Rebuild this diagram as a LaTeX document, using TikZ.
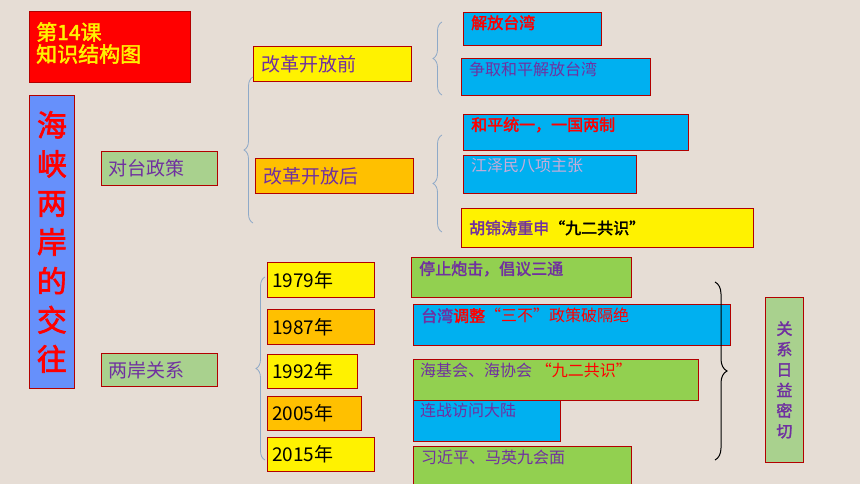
\documentclass[tikz,border=0pt]{standalone}
\usepackage{fontspec}
\setmainfont{Noto Sans CJK SC}
\newfontfamily\cjkb{Noto Sans CJK SC}[FakeBold=2]
\usetikzlibrary{decorations.pathreplacing}
\definecolor{bg}{HTML}{E6DDD5}
\definecolor{pur}{HTML}{7030A0}
\definecolor{gr}{HTML}{92D050}
\definecolor{lg}{HTML}{A9D18E}
\definecolor{bl}{HTML}{00B0F0}
\definecolor{org}{HTML}{FFC000}
\definecolor{brc}{HTML}{8EA9C8}
\tikzset{
 box/.style={draw=red!70!black,line width=0.8pt,anchor=north west,inner sep=0pt,text=pur},
 tx/.style={anchor=west,text=pur,inner sep=0pt},
 br/.style={decorate,decoration={brace,amplitude=9pt},draw=brc,line width=0.8pt},
}
\newcommand{\bx}[6]{\node[box,fill=#5,minimum width=#3pt,minimum height=#4pt] (#6) at (#1pt,-#2pt) {};}
\begin{document}
\begin{tikzpicture}[x=1pt,y=1pt]
\fill[bg] (0,0) rectangle (860,-484);
\useasboundingbox (0,0) rectangle (860,-484);
% title
\bx{29}{11}{161}{71}{red}{t}
\node[anchor=west,text=yellow,font=\cjkb\fontsize{21}{22}\selectfont,align=left,inner sep=0pt] at (36,-43) {第14课\\知识结构图};
\bx{29}{95}{45}{293}{bl!40!blue!60!white}{v}
\node[text=red,font=\cjkb\fontsize{30}{39}\selectfont,align=center] at (v.center) {海\\峡\\两\\岸\\的\\交\\往};
\bx{101}{151}{116}{34}{lg}{a}
\node[tx,font=\fontsize{19}{20}\selectfont] at ([xshift=7pt]a.west) {对台政策};
\bx{101}{353}{116}{33}{lg}{b}
\node[tx,font=\fontsize{19}{20}\selectfont] at ([xshift=7pt]b.west) {两岸关系};
\bx{253}{46}{158}{35}{yellow}{c}
\node[tx,font=\fontsize{19}{20}\selectfont] at ([xshift=8pt]c.west) {改革开放前};
\bx{255}{158}{158}{35}{org}{d}
\node[tx,font=\fontsize{19}{20}\selectfont] at ([xshift=8pt]d.west) {改革开放后};
% policy items
\bx{463}{12}{138}{33}{bl}{e1}
\node[tx,text=red,font=\cjkb\fontsize{16}{17}\selectfont,anchor=north west] at ([xshift=8pt,yshift=-3pt]e1.north west) {解放台湾};
\bx{461}{58}{189}{37}{bl}{e2}
\node[tx,font=\fontsize{16}{17}\selectfont,anchor=north west] at ([xshift=8pt,yshift=-4pt]e2.north west) {争取和平解放台湾};
\bx{463}{114}{225}{36}{bl}{e3}
\node[tx,text=red,font=\cjkb\fontsize{16}{17}\selectfont,anchor=north west] at ([xshift=8pt,yshift=-3pt]e3.north west) {和平统一，一国两制};
\bx{463}{155}{173}{38}{bl}{e4}
\node[tx,text=pur!40!white,font=\fontsize{16}{17}\selectfont,anchor=north west] at ([xshift=8pt,yshift=-3pt]e4.north west) {江泽民八项主张};
\bx{461}{208}{292}{39}{yellow}{e5}
\node[tx,font=\cjkb\fontsize{16}{17}\selectfont] at ([xshift=8pt]e5.west) {胡锦涛重申\textcolor{black}{“九二共识”}};
% years
\bx{267}{262}{107}{35}{yellow}{y1}
\bx{267}{309}{107}{35}{org}{y2}
\bx{267}{354}{90}{34}{yellow}{y3}
\bx{267}{396}{94}{34}{org}{y4}
\bx{267}{437}{107}{34}{yellow}{y5}
\foreach \n/\t in {y1/1979年,y2/1987年,y3/1992年,y4/2005年,y5/2015年}
  \node[tx,text=black,font=\fontsize{19}{20}\selectfont] at ([xshift=5pt]\n.west) {\t};
% events
\bx{411}{257}{220}{40}{gr}{f1}
\node[tx,font=\cjkb\fontsize{16}{17}\selectfont,anchor=north west] at ([xshift=8pt,yshift=-4pt]f1.north west) {停止炮击，倡议三通};
\bx{413}{304}{317}{41}{bl}{f2}
\node[tx,font=\cjkb\fontsize{16}{17}\selectfont,anchor=north west] at ([xshift=8pt,yshift=-4pt]f2.north west) {台湾\textcolor{red}{调整}\textcolor{red}{\normalfont“三不”政策破隔绝}};
\bx{413}{359}{285}{41}{gr}{f3}
\node[tx,font=\fontsize{16}{17}\selectfont,anchor=north west] at ([xshift=7pt,yshift=-4pt]f3.north west) {海基会、海协会 \textcolor{red}{“九二共识”}};
\bx{413}{400}{147}{41}{bl}{f4}
\node[tx,font=\fontsize{16}{17}\selectfont,anchor=north west] at ([xshift=7pt,yshift=-3pt]f4.north west) {连战访问大陆};
\bx{413}{446}{218}{40}{gr}{f5}
\node[tx,font=\fontsize{16}{17}\selectfont,anchor=north west] at ([xshift=8pt,yshift=-4pt]f5.north west) {习近平、马英九会面};
\bx{765}{297}{38}{165}{lg}{g}
\node[text=pur,font=\cjkb\fontsize{16}{20.5}\selectfont,align=center] at (g.center) {关\\系\\日\\益\\密\\切};
% braces
\draw[br] (253,-223) -- (253,-77);
\draw[br] (442,-95) -- (442,-22);
\draw[br] (442,-232) -- (442,-135);
\draw[br] (265,-460) -- (265,-277);
\draw[decorate,decoration={brace,amplitude=12pt},draw=black,line width=1pt] (715,-282) -- (715,-460);
\end{tikzpicture}
\end{document}
